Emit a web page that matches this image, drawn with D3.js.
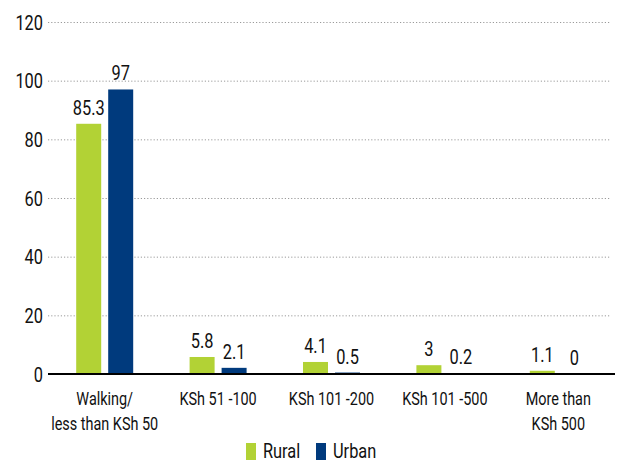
<!DOCTYPE html>
<html>
<head>
<meta charset="utf-8">
<script src="https://cdn.jsdelivr.net/npm/d3@7"></script>
<style>
  html, body { margin: 0; padding: 0; background: #fff; }
  svg text { font-family: "Roboto", "Liberation Sans", sans-serif; fill: #111; }
</style>
</head>
<body>
<svg id="chart" width="619" height="464"></svg>
<script>
// Cost of reaching the nearest facility, by residence
const categories = [["Walking/", "less than KSh 50"], ["KSh 51 -100"], ["KSh 101 -200"], ["KSh 101 -500"], ["More than", "KSh 500"]];
const series = ["Rural", "Urban"];
const rural = [85.3, 5.8, 4.1, 3, 1.1];
const urban = [97, 2.1, 0.5, 0.2, 0];
const yTicks = [0, 20, 40, 60, 80, 100, 120];
const colors = ["#b2d235", "#003a7d"];

const svg = d3.select("#chart");
const W = 619;
const left = 48, right = 4;
const narrow = 0.78; // horizontal squeeze for a condensed look

const x = d3.scaleBand().domain(d3.range(categories.length)).range([left, W - right]).padding(0);
const y = d3.scaleLinear().domain([0, 120]).range([374, 22]);

// place a condensed text at (px, py)
function label(parent, px, py, str, size, anchor) {
  return parent.append("text")
    .attr("transform", `translate(${px},${py}) scale(${narrow},1)`)
    .attr("text-anchor", anchor || "middle")
    .style("font-size", size + "px")
    .text(str);
}

// gridlines
svg.append("g").selectAll("line").data(yTicks.filter(t => t > 0)).join("line")
  .attr("x1", left).attr("x2", 611)
  .attr("y1", d => y(d) + 0.5).attr("y2", d => y(d) + 0.5)
  .attr("stroke", "#9a9a9a").attr("stroke-width", 1).attr("stroke-dasharray", "1.2,2");

// y tick labels
const gy = svg.append("g");
yTicks.forEach(t => label(gy, 43, y(t) + 7.5, t, 21, "end"));

const bw = 25, gap = 7;
const groups = svg.append("g").selectAll("g").data(categories).join("g")
  .attr("transform", (d, i) => `translate(${x(i) + x.bandwidth() / 2},0)`);

[rural, urban].forEach((vals, s) => {
  const xo = s === 0 ? -(bw + gap / 2) : gap / 2;
  groups.append("rect")
    .attr("x", xo).attr("width", bw)
    .attr("y", (d, i) => y(vals[i]))
    .attr("height", (d, i) => y(0) - y(vals[i]))
    .attr("fill", colors[s]);
  groups.each(function (d, i) {
    label(d3.select(this), xo + bw / 2, y(vals[i]) - 9, vals[i], 21);
  });
});

// baseline
svg.append("line").attr("x1", left).attr("x2", 615)
  .attr("y1", y(0)).attr("y2", y(0)).attr("stroke", "#000").attr("stroke-width", 2);

// category labels
groups.each(function (d) {
  const g = d3.select(this);
  d.forEach((line, k) => label(g, 0, 405 + k * 25, line, 18.5));
});

// legend
const legend = svg.append("g");
const items = [{ name: series[0], x: 246 }, { name: series[1], x: 316 }];
items.forEach((it, i) => {
  legend.append("rect").attr("x", it.x).attr("y", 443).attr("width", 10).attr("height", 17).attr("fill", colors[i]);
  label(legend, it.x + 17, 458, it.name, 21, "start");
});
</script>
</body>
</html>
